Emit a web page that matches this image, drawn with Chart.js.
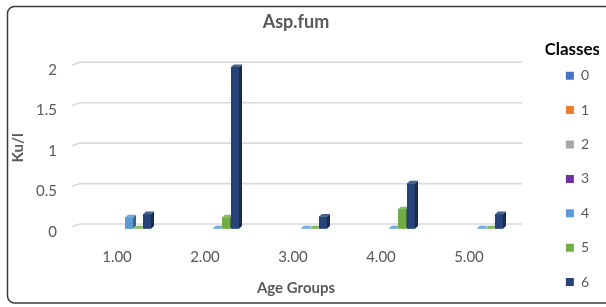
<!DOCTYPE html>
<html>
<head>
<meta charset="utf-8">
<script src="https://cdn.jsdelivr.net/npm/chart.js@4/dist/chart.umd.min.js"></script>
<style>
  html, body { margin: 0; padding: 0; background: #ffffff; }
  #wrap { width: 606px; height: 307px; }
</style>
</head>
<body>
<div id="wrap"><canvas id="c" width="606" height="307"></canvas></div>
<script>
// ---- data ----
const categories = ['1.00', '2.00', '3.00', '4.00', '5.00'];
const classLabels = ['0', '1', '2', '3', '4', '5', '6'];
const class0 = [0, 0, 0, 0, 0];
const class1 = [0, 0, 0, 0, 0];
const class2 = [0, 0, 0, 0, 0];
const class3 = [0, 0, 0, 0, 0];
const class4 = [0.14, 0.005, 0.005, 0.005, 0.005];
const class5 = [0.005, 0.14, 0.005, 0.24, 0.005];
const class6 = [0.18, 2.0, 0.15, 0.56, 0.18];
const yTickValues = [0, 0.5, 1, 1.5, 2];
const yTickLabels = ['0', '0.5', '1', '1.5', '2'];
const classColors = ['#4472C4', '#ED7D31', '#A5A5A5', '#7030A0', '#5B9BD5', '#70AD47', '#264478'];

const seriesValues = [class0, class1, class2, class3, class4, class5, class6];

function shade(hex, f) {
  const n = parseInt(hex.slice(1), 16);
  let r = (n >> 16) & 255, g = (n >> 8) & 255, b = n & 255;
  if (f < 0) { r = r * (1 + f); g = g * (1 + f); b = b * (1 + f); }
  else { r = r + (255 - r) * f; g = g + (255 - g) * f; b = b + (255 - b) * f; }
  return 'rgb(' + Math.round(r) + ',' + Math.round(g) + ',' + Math.round(b) + ')';
}

const DX = 3, DY = 2.6;

const frame = {
  id: 'frame',
  beforeDraw(chart) {
    const ctx = chart.ctx;
    ctx.save();
    ctx.fillStyle = '#ffffff';
    ctx.fillRect(0, 0, chart.width, chart.height);
    ctx.strokeStyle = '#3a3a3a';
    ctx.lineWidth = 1.5;
    ctx.beginPath();
    ctx.roundRect(7.5, 6.5, 620, 296.5, 7);
    ctx.stroke();
    ctx.restore();
  }
};

const backGrid = {
  id: 'backGrid',
  beforeDatasetsDraw(chart) {
    const ctx = chart.ctx;
    const ys = chart.scales.y;
    const area = chart.chartArea;
    ctx.save();
    ctx.strokeStyle = '#d9d9d9';
    ctx.lineWidth = 1.6;
    ys.ticks.forEach(t => {
      const yf = ys.getPixelForValue(t.value);
      const yb = yf - 4.7;
      ctx.beginPath();
      ctx.moveTo(area.left - 4, yf - 2);
      ctx.lineTo(area.left + 4, yb);
      ctx.lineTo(area.right + 6, yb);
      ctx.stroke();
    });
    ctx.restore();
  }
};

const bars3d = {
  id: 'bars3d',
  afterDatasetsDraw(chart) {
    const ctx = chart.ctx;
    ctx.save();
    chart.data.datasets.forEach((ds, i) => {
      const meta = chart.getDatasetMeta(i);
      if (meta.hidden) return;
      const col = ds.backgroundColor;
      meta.data.forEach((bar, j) => {
        const v = ds.data[j];
        if (!v) return;
        const p = bar.getProps(['x', 'y', 'base', 'width'], true);
        const l = p.x - p.width / 2, r = p.x + p.width / 2;
        const top = p.y, base = p.base;
        ctx.fillStyle = col;
        ctx.fillRect(l, top, r - l, base - top);
        ctx.fillStyle = shade(col, -0.35);
        ctx.beginPath();
        ctx.moveTo(r, top);
        ctx.lineTo(r + DX, top - DY);
        ctx.lineTo(r + DX, base - DY);
        ctx.lineTo(r, base);
        ctx.closePath();
        ctx.fill();
        ctx.fillStyle = shade(col, 0.15);
        ctx.beginPath();
        ctx.moveTo(l, top);
        ctx.lineTo(l + DX, top - DY);
        ctx.lineTo(r + DX, top - DY);
        ctx.lineTo(r, top);
        ctx.closePath();
        ctx.fill();
      });
    });
    ctx.restore();
  }
};

const FONT = 'Lato';
const GREY = '#595959';

new Chart(document.getElementById('c'), {
  type: 'bar',
  data: {
    labels: categories,
    datasets: classLabels.map((lab, i) => ({
      label: lab,
      data: seriesValues[i],
      backgroundColor: classColors[i],
      borderWidth: 0,
      categoryPercentage: 0.716,
      barPercentage: 0.89
    }))
  },
  options: {
    responsive: false,
    devicePixelRatio: 1,
    animation: false,
    layout: { padding: { top: 0, right: 7, bottom: -6, left: 8 } },
    plugins: {
      tooltip: { enabled: false },
      title: {
        display: true,
        text: 'Asp.fum',
        fullSize: false,
        color: GREY,
        font: { family: FONT, size: 18, weight: 'bold' },
        padding: { top: 11.2, bottom: 34.2 }
      },
      legend: {
        display: true,
        position: 'right',
        align: 'start',
        title: {
          display: true,
          text: 'Classes',
          color: '#000000',
          font: { family: FONT, size: 17, weight: 'bold' },
          padding: { top: 41.5, bottom: -13.6 }
        },
        labels: {
          color: GREY,
          font: { family: FONT, size: 14 },
          boxWidth: 8,
          boxHeight: 8,
          padding: 20.4
        }
      }
    },
    scales: {
      x: {
        grid: { display: false, drawTicks: false },
        border: { display: false },
        ticks: {
          color: GREY,
          font: { family: FONT, size: 15 },
          padding: 19.3,
          labelOffset: -3
        },
        title: {
          display: true,
          text: 'Age Groups',
          color: GREY,
          font: { family: FONT, size: 15, weight: 'bold' },
          padding: { top: 0, bottom: 16 }
        },
        afterFit(s) { s.height = 84.3; }
      },
      y: {
        min: yTickValues[0],
        max: yTickValues[yTickValues.length - 1],
        grid: { display: false, drawTicks: false },
        border: { display: false },
        afterBuildTicks(s) { s.ticks = yTickValues.map(v => ({ value: v })); },
        ticks: {
          color: GREY,
          font: { family: FONT, size: 15 },
          padding: 19,
          labelOffset: 3,
          callback: (v, i) => yTickLabels[i]
        },
        title: {
          display: true,
          text: 'Ku/l',
          color: GREY,
          font: { family: FONT, size: 15, weight: 'bold' },
          padding: { top: 1, bottom: 0 }
        },
        afterFit(s) { s.width = 68; }
      },
      spacer: {
        type: 'linear',
        position: 'right',
        display: true,
        grid: { display: false, drawTicks: false },
        border: { display: false },
        ticks: { display: false },
        afterFit(s) { s.width = 29.5; }
      }
    }
  },
  plugins: [frame, backGrid, bars3d]
});
</script>
</body>
</html>
